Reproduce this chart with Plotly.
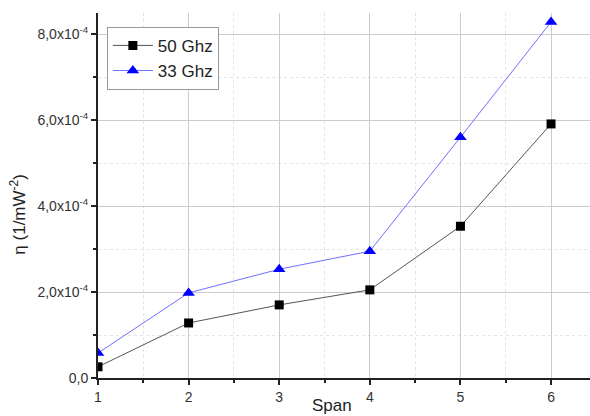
import plotly.graph_objects as go

span = [1, 2, 3, 4, 5, 6]
eta_50ghz = [0.26e-4, 1.28e-4, 1.70e-4, 2.05e-4, 3.53e-4, 5.91e-4]
eta_33ghz = [0.58e-4, 1.98e-4, 2.53e-4, 2.95e-4, 5.60e-4, 8.28e-4]
y_tickvals = [0, 2e-4, 4e-4, 6e-4, 8e-4]
y_ticktext = ["0,0", "2,0x10<sup>-4</sup>", "4,0x10<sup>-4</sup>",
              "6,0x10<sup>-4</sup>", "8,0x10<sup>-4</sup>"]
x_tickvals = [1, 2, 3, 4, 5, 6]

fig = go.Figure()
fig.add_trace(go.Scatter(x=span, y=eta_50ghz, name="50 Ghz", mode="lines+markers",
                         line=dict(color="#555555", width=1),
                         marker=dict(symbol="square", size=9, color="black")))
fig.add_trace(go.Scatter(x=span, y=eta_33ghz, name="33 Ghz", mode="lines+markers",
                         line=dict(color="#7070ff", width=1),
                         marker=dict(symbol="triangle-up", size=11, color="#0000ff")))

font = "Liberation Sans, Arial, sans-serif"
fig.update_layout(
    width=590, height=416,
    margin=dict(l=98, r=0, t=13, b=38),
    paper_bgcolor="white", plot_bgcolor="white",
    font=dict(family=font, size=14, color="#333333"),
    showlegend=True,
    legend=dict(x=0.018, y=0.962, xanchor="left", yanchor="top",
                bordercolor="#999999", borderwidth=1, bgcolor="white",
                font=dict(size=17, color="#222222"), tracegroupgap=0,
                itemwidth=40),
    xaxis=dict(range=[1, 6.43], tickvals=x_tickvals, showline=True, linecolor="#222222",
               linewidth=2, ticks="outside", ticklen=5, tickwidth=2, tickcolor="#222222",
               showgrid=True, gridcolor="#cccccc", gridwidth=1, zeroline=False,
               tickfont=dict(size=14),
               minor=dict(dtick=0.5, tick0=1, ticks="outside", ticklen=3, tickwidth=1.5,
                          tickcolor="#222222", showgrid=True, gridcolor="#e4e4e4",
                          griddash="dot")),
    yaxis=dict(range=[0, 8.49e-4], tickvals=y_tickvals, ticktext=y_ticktext,
               showline=True, linecolor="#222222", linewidth=2, ticks="outside",
               ticklen=5, tickwidth=2, tickcolor="#222222",
               showgrid=True, gridcolor="#cccccc", gridwidth=1, zeroline=False,
               tickfont=dict(size=14),
               minor=dict(dtick=1e-4, tick0=0, ticks="outside", ticklen=3, tickwidth=1.5,
                          tickcolor="#222222", showgrid=True, gridcolor="#e4e4e4",
                          griddash="dot")),
    annotations=[
        dict(text="Span", xref="paper", yref="paper", x=0.476, y=-0.074,
             xanchor="center", yanchor="middle", showarrow=False,
             font=dict(size=17, color="#222222")),
        dict(text="η (1/mW<sup>-2</sup>)", xref="paper", yref="paper", x=-0.163, y=0.447,
             xanchor="center", yanchor="middle", showarrow=False, textangle=-90,
             font=dict(size=17, color="#222222")),
    ],
)

fig.write_html("out.html", config={"displayModeBar": False},
               post_script="document.body.style.margin='0';document.body.style.overflow='hidden';")
